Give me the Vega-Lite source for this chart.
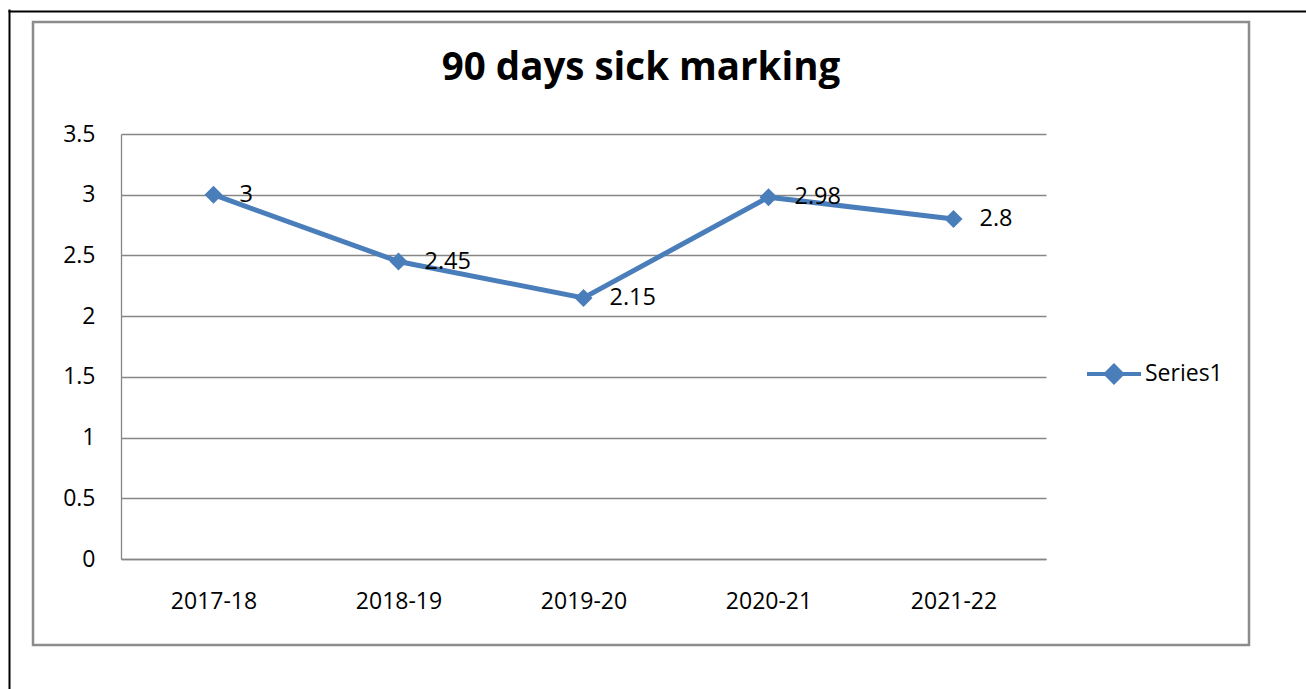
{
  "$schema": "https://vega.github.io/schema/vega-lite/v6.json",
  "width": 1216,
  "height": 623,
  "autosize": "none",
  "padding": {"left": 33, "top": 22, "right": 57, "bottom": 44},
  "background": "white",
  "config": {
    "view": {"stroke": "#8c8c8c", "strokeWidth": 2.5},
    "font": "Open Sans"
  },
  "title": {
    "text": "90 days sick marking",
    "fontSize": 38.5,
    "fontWeight": "bold",
    "font": "Open Sans",
    "color": "black",
    "anchor": "middle",
    "frame": "group",
    "baseline": "alphabetic",
    "offset": -112
  },
  "data": {
    "values": [
      {"year": "2017-18", "value": 3},
      {"year": "2018-19", "value": 2.45},
      {"year": "2019-20", "value": 2.15},
      {"year": "2020-21", "value": 2.98},
      {"year": "2021-22", "value": 2.8}
    ]
  },
  "layer": [
    {
      "encoding": {
        "x": {
          "field": "year",
          "type": "ordinal",
          "sort": null,
          "scale": {"type": "point", "range": [88, 1013], "padding": 0.5},
          "axis": {
            "title": null,
            "orient": "bottom",
            "offset": -86,
            "domainColor": "#868686",
            "domainWidth": 1.3,
            "ticks": false,
            "tickSize": 0,
            "labelAngle": 0,
            "labelFont": "Open Sans",
            "labelFontSize": 23,
            "labelColor": "black",
            "labelPadding": 31,
            "labelOverlap": false,
            "grid": false
          }
        },
        "y": {
          "field": "value",
          "type": "quantitative",
          "scale": {"domain": [0, 3.5], "range": [537, 112], "nice": false, "zero": true},
          "axis": {
            "title": null,
            "orient": "left",
            "offset": -88,
            "values": [0, 0.5, 1, 1.5, 2, 2.5, 3, 3.5],
            "format": "~g",
            "domainColor": "#868686",
            "domainWidth": 1.3,
            "ticks": false,
            "tickSize": 0,
            "grid": true,
            "gridColor": "#868686",
            "gridWidth": 1.3,
            "labelFont": "Open Sans",
            "labelFontSize": 23,
            "labelColor": "black",
            "labelPadding": 26
          }
        }
      },
      "layer": [
        {
          "mark": {"type": "line", "color": "#4a7ebb", "strokeWidth": 5}
        },
        {
          "mark": {"type": "point", "shape": "diamond", "filled": true, "size": 324, "opacity": 1},
          "encoding": {
            "color": {
              "datum": "Series1",
              "scale": {"range": ["#4a7ebb"]},
              "legend": {
                "title": null,
                "orient": "none",
                "legendX": 1052,
                "legendY": 323,
                "padding": 0,
                "symbolType": "M-1,0L1,0M-0.3,0L0,-0.3L0.3,0L0,0.3Z",
                "symbolSize": 2916,
                "symbolStrokeWidth": 4,
                "symbolFillColor": "#4a7ebb",
                "symbolStrokeColor": "#4a7ebb",
                "labelFont": "Open Sans",
                "labelFontSize": 23,
                "labelColor": "black",
                "labelOffset": 2,
                "labelBaseline": "middle",
                "encode": {
                  "symbols": {
                    "update": {
                      "stroke": {"value": "#4a7ebb"},
                      "fill": {"value": "#4a7ebb"},
                      "strokeWidth": {"value": 4.5},
                      "strokeCap": {"value": "round"},
                      "opacity": {"value": 1}
                    }
                  }
                }
              }
            }
          }
        },
        {
          "mark": {
            "type": "text",
            "align": "left",
            "baseline": "middle",
            "dx": 26,
            "font": "Open Sans",
            "fontSize": 23.5,
            "color": "black"
          },
          "encoding": {
            "text": {"field": "value", "type": "quantitative", "format": "~g"}
          }
        }
      ]
    },
    {
      "mark": {"type": "point", "opacity": 0},
      "encoding": {
        "x": {
          "field": "year",
          "type": "ordinal",
          "sort": null,
          "scale": {"type": "point", "range": [-25, 1320]},
          "axis": {
            "title": null,
            "orient": "top",
            "offset": 11,
            "domain": true,
            "domainColor": "black",
            "domainWidth": 2,
            "ticks": false,
            "labels": false,
            "grid": false
          }
        },
        "y": {
          "field": "value",
          "type": "quantitative",
          "scale": {"range": [720, -13]},
          "axis": {
            "title": null,
            "orient": "left",
            "offset": 24,
            "domain": true,
            "domainColor": "black",
            "domainWidth": 2,
            "ticks": false,
            "labels": false,
            "grid": false
          }
        }
      }
    }
  ],
  "resolve": {
    "scale": {"x": "independent", "y": "independent"},
    "axis": {"x": "independent", "y": "independent"}
  }
}
